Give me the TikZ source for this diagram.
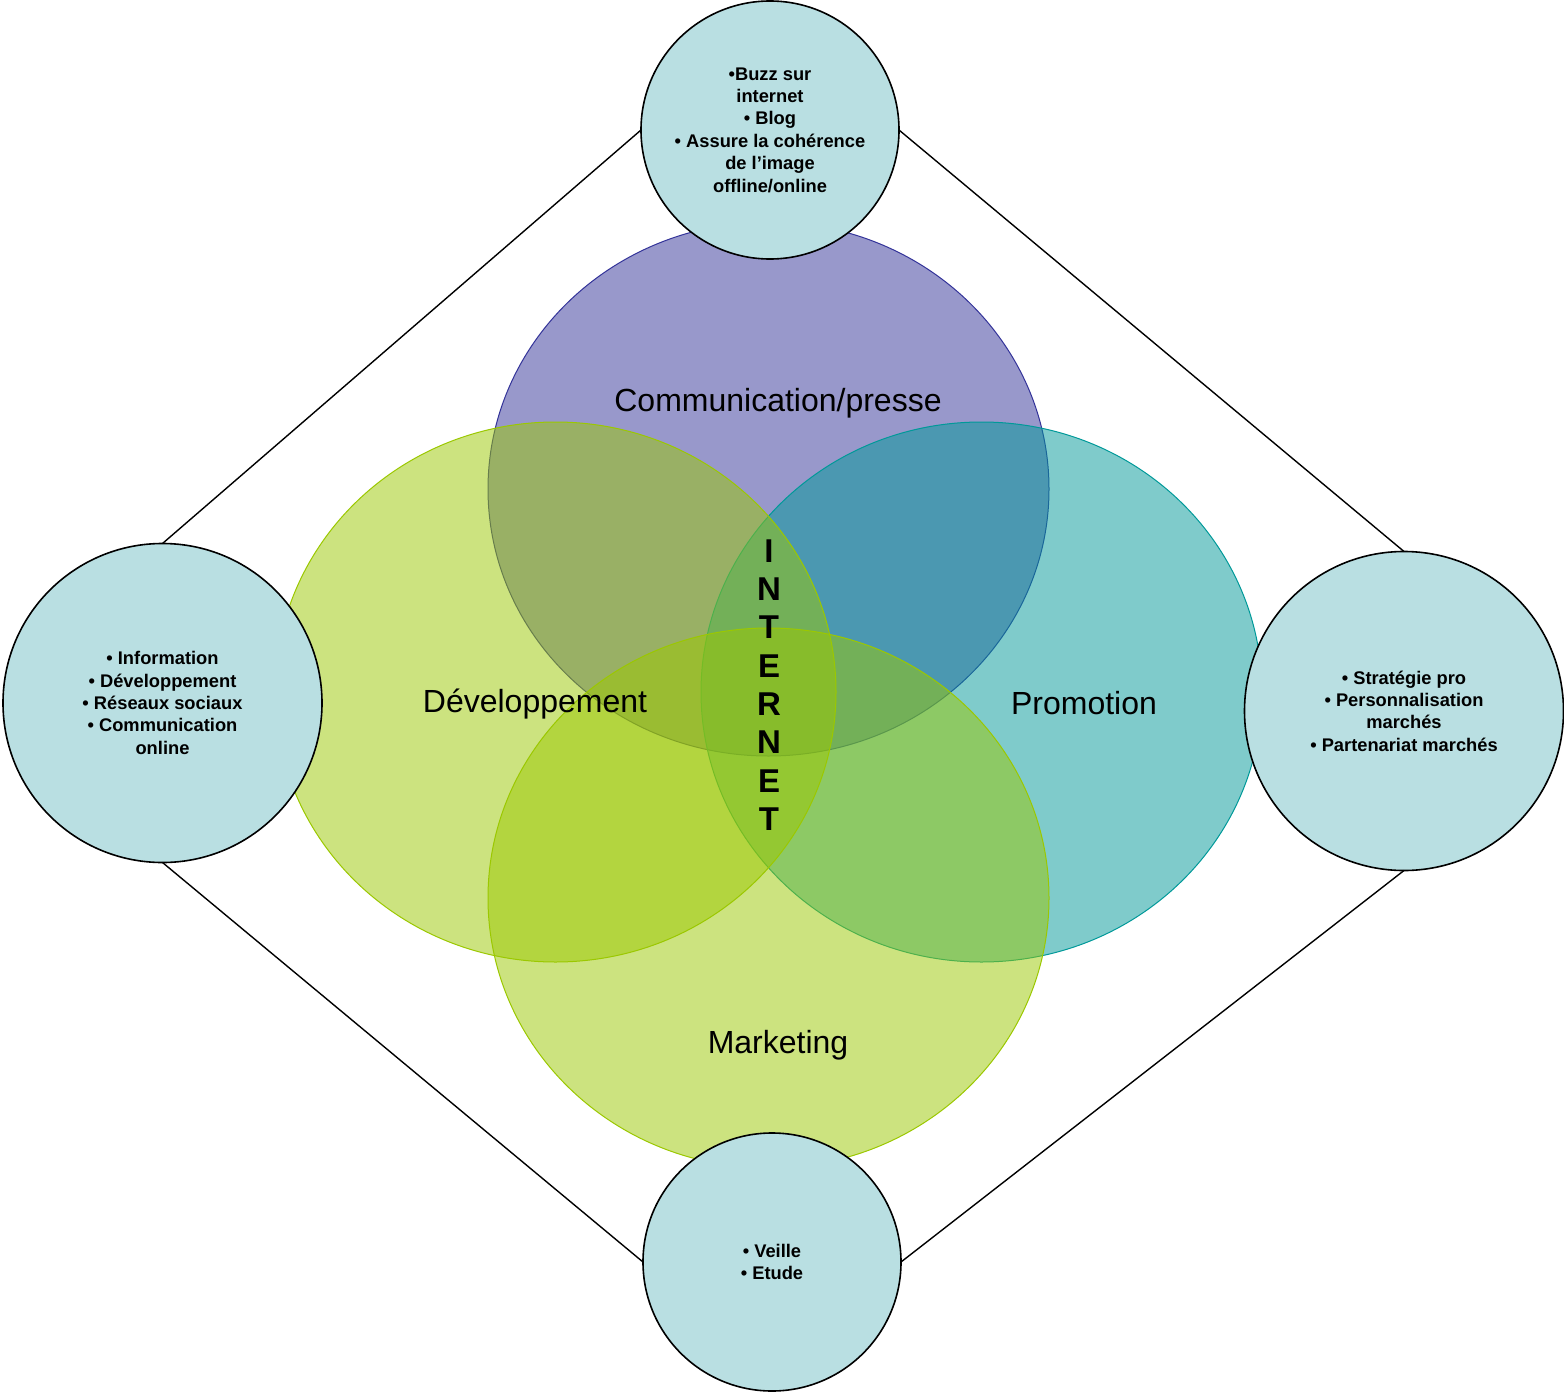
\documentclass[tikz,border=0pt]{standalone}
\usepackage{fontspec}
\setmainfont{Liberation Sans}
\usetikzlibrary{shapes.geometric}
\definecolor{cpurple}{HTML}{333399}
\definecolor{cgreen}{HTML}{9BC800}
\definecolor{cteal}{HTML}{009999}
\definecolor{cbubble}{HTML}{B9DFE2}
\tikzset{
  bigcircle/.style={ellipse, minimum width=561pt, minimum height=540pt, inner sep=0pt, outer sep=0pt, fill opacity=0.5, line width=1pt},
  bubble/.style={circle, draw=black, line width=1.6pt, fill=cbubble, inner sep=0pt, outer sep=0pt, align=center, font=\fontsize{18.3}{22.4}\selectfont\bfseries},
  biglabel/.style={font=\fontsize{32}{38}\selectfont},
  link/.style={draw=black, line width=1.4pt},
}
\begin{document}
\begin{tikzpicture}[x=1pt,y=-1pt]
\useasboundingbox[fill=white] (0,0) rectangle (1564,1394);
% big overlapping ellipses
\node[bigcircle, fill=cpurple, draw=cpurple, minimum height=534pt] (comm) at (768.5,489) {};
\node[bigcircle, fill=cteal, draw=cteal] (promo) at (981.5,692) {};
\node[bigcircle, fill=cgreen, draw=cgreen] (dev) at (555.5,692) {};
\node[bigcircle, fill=cgreen, draw=cgreen] (mark) at (768.5,898) {};
% labels
\node[biglabel] (lcomm) at (778,403) {Communication/presse};
\node[biglabel] (ldev) at (535,704) {Développement};
\node[biglabel] (lpromo) at (1084,703) {Promotion};
\node[biglabel] (lmark) at (778,1045) {Marketing};
\node[font=\fontsize{33}{38.3}\selectfont\bfseries, align=center, inner sep=0pt] (internet) at (769,685) {I\\N\\T\\E\\R\\N\\E\\T};
% bubbles
\node[bubble, minimum size=258pt] (btop) at (770,130) {•Buzz sur\\internet\\• Blog\\• Assure la cohérence\\de l’image\\offline/online};
\node[bubble, minimum size=319pt] (bleft) at (162.5,703) {• Information\\• Développement\\• Réseaux sociaux\\• Communication\\online};
\node[bubble, minimum size=319pt] (bright) at (1404,711) {• Stratégie pro\\• Personnalisation\\marchés\\• Partenariat marchés};
\node[bubble, minimum size=258pt] (bbottom) at (772,1262) {• Veille\\• Etude};
% connectors
\draw[link] (btop.west) -- (bleft.north);
\draw[link] (btop.east) -- (bright.north);
\draw[link] (bleft.south) -- (bbottom.west);
\draw[link] (bright.south) -- (bbottom.east);
\end{tikzpicture}
\end{document}
